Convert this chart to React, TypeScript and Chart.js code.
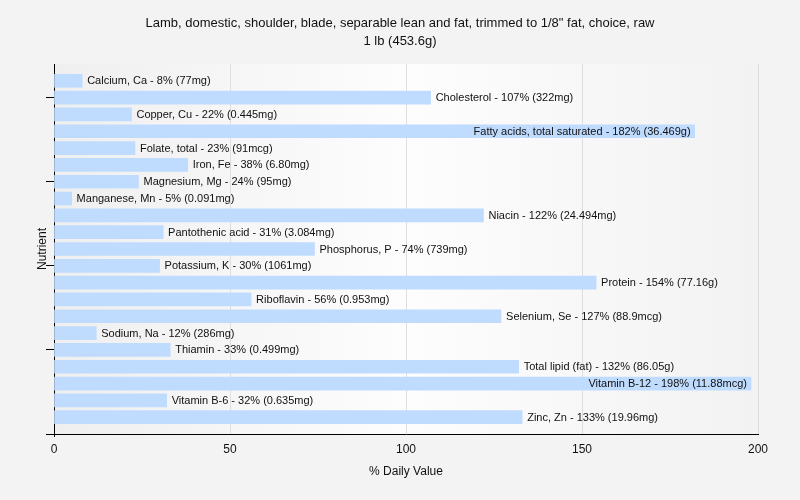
import React, { useEffect, useRef } from "react";
import { Chart, registerables } from "chart.js";

Chart.register(...registerables);

const TITLE_LINES = [
  'Lamb, domestic, shoulder, blade, separable lean and fat, trimmed to 1/8" fat, choice, raw',
  "1 lb (453.6g)",
];
const X_TITLE = "% Daily Value";
const Y_TITLE = "Nutrient";

const NUTRIENTS = [
  "Calcium, Ca",
  "Cholesterol",
  "Copper, Cu",
  "Fatty acids, total saturated",
  "Folate, total",
  "Iron, Fe",
  "Magnesium, Mg",
  "Manganese, Mn",
  "Niacin",
  "Pantothenic acid",
  "Phosphorus, P",
  "Potassium, K",
  "Protein",
  "Riboflavin",
  "Selenium, Se",
  "Sodium, Na",
  "Thiamin",
  "Total lipid (fat)",
  "Vitamin B-12",
  "Vitamin B-6",
  "Zinc, Zn",
];
const DAILY_VALUE = [8, 107, 22, 182, 23, 38, 24, 5, 122, 31, 74, 30, 154, 56, 127, 12, 33, 132, 198, 32, 133];
const AMOUNTS = [
  "77mg",
  "322mg",
  "0.445mg",
  "36.469g",
  "91mcg",
  "6.80mg",
  "95mg",
  "0.091mg",
  "24.494mg",
  "3.084mg",
  "739mg",
  "1061mg",
  "77.16g",
  "0.953mg",
  "88.9mcg",
  "286mg",
  "0.499mg",
  "86.05g",
  "11.88mcg",
  "0.635mg",
  "19.96mg",
];
const X_TICKS = [0, 50, 100, 150, 200];
const Y_TICK_INDEXES = [1, 6, 11, 16, 21];

const FONT = "'Liberation Sans', Arial, sans-serif";

const plotBackground = {
  id: "plotBackground",
  beforeDraw(chart: any) {
    const { ctx, chartArea } = chart;
    if (!chartArea) return;
    const g = ctx.createLinearGradient(chartArea.left, 0, chartArea.right, 0);
    g.addColorStop(0, "#efefef");
    g.addColorStop(0.5, "#fdfdfd");
    g.addColorStop(1, "#f2f2f2");
    ctx.save();
    ctx.fillStyle = g;
    ctx.fillRect(chartArea.left, chartArea.top, chartArea.right - chartArea.left, chartArea.bottom - chartArea.top);
    ctx.restore();
  },
};

const centeredTitle = {
  id: "centeredTitle",
  afterDraw(chart: any) {
    const { ctx, width } = chart;
    ctx.save();
    ctx.font = `13px ${FONT}`;
    ctx.fillStyle = "#111";
    ctx.textAlign = "center";
    ctx.textBaseline = "middle";
    TITLE_LINES.forEach((line, i) => {
      ctx.fillText(line, width / 2, 23 + i * 18.5);
    });
    ctx.restore();
  },
};

const barLabels = {
  id: "barLabels",
  afterDatasetsDraw(chart: any) {
    const { ctx, chartArea } = chart;
    const meta = chart.getDatasetMeta(0);
    ctx.save();
    ctx.font = `11px ${FONT}`;
    ctx.fillStyle = "#111";
    ctx.textBaseline = "middle";
    meta.data.forEach((bar: any, i: number) => {
      const text = `${NUTRIENTS[i]} - ${DAILY_VALUE[i]}% (${AMOUNTS[i]})`;
      const w = ctx.measureText(text).width;
      if (bar.x + 5 + w > chartArea.right) {
        ctx.textAlign = "right";
        ctx.fillText(text, bar.x - 4, bar.y + 0.5);
      } else {
        ctx.textAlign = "left";
        ctx.fillText(text, bar.x + 5, bar.y + 0.5);
      }
    });
    ctx.restore();
  },
};

export default function App() {
  const ref = useRef<HTMLCanvasElement>(null);
  useEffect(() => {
    if (!ref.current) return;
    const chart = new Chart(ref.current, {
      type: "bar",
      data: {
        datasets: [
          {
            data: DAILY_VALUE.map((v, i) => ({ x: v, y: i })),
            backgroundColor: "rgb(191,219,254)",
            borderWidth: 0,
            barThickness: 13,
          },
        ],
      },
      plugins: [plotBackground, barLabels, centeredTitle],
      options: {
        animation: false,
        responsive: false,
        indexAxis: "y",
        layout: { padding: { left: 0, right: 42, top: 64, bottom: 0 } },
        plugins: {
          legend: { display: false },
          tooltip: { enabled: false },
          title: { display: false },
        },
        scales: {
          x: {
            type: "linear",
            min: 0,
            max: 200,
            offset: false,
            afterBuildTicks: (s: any) => {
              s.ticks = X_TICKS.map((v) => ({ value: v }));
            },
            afterFit: (s: any) => {
              s.height = 66;
            },
            grid: {
              color: "#dedede",
              drawTicks: true,
              tickLength: 3,
              tickColor: (c: any) => (c.tick && c.tick.value === 0 ? "#000" : "rgba(0,0,0,0)"),
              offset: false,
            },
            border: { color: "#000", width: 1 },
            ticks: { color: "#111", font: { family: FONT, size: 12 }, padding: 5 },
            title: {
              display: true,
              text: X_TITLE,
              color: "#111",
              font: { family: FONT, size: 12 },
              padding: { top: 0, bottom: 21 },
            },
          },
          y: {
            type: "linear",
            min: -1,
            max: NUTRIENTS.length,
            reverse: true,
            offset: false,
            afterBuildTicks: (s: any) => {
              s.ticks = Y_TICK_INDEXES.map((v) => ({ value: v }));
            },
            afterFit: (s: any) => {
              s.width = 54;
            },
            grid: { drawOnChartArea: false, drawTicks: true, tickLength: 8, tickColor: "#000", offset: false },
            border: { color: "#000", width: 1 },
            ticks: { display: false },
            title: {
              display: true,
              text: Y_TITLE,
              color: "#111",
              font: { family: FONT, size: 12 },
              padding: { top: 35, bottom: 0 },
            },
          },
        },
      },
    } as any);
    return () => chart.destroy();
  }, []);
  return (
    <div style={{ position: "fixed", left: 0, top: 0, width: 800, height: 500, background: "#f3f3f3" }}>
      <canvas ref={ref} width={800} height={500} style={{ display: "block", width: 800, height: 500 }} />
    </div>
  );
}
